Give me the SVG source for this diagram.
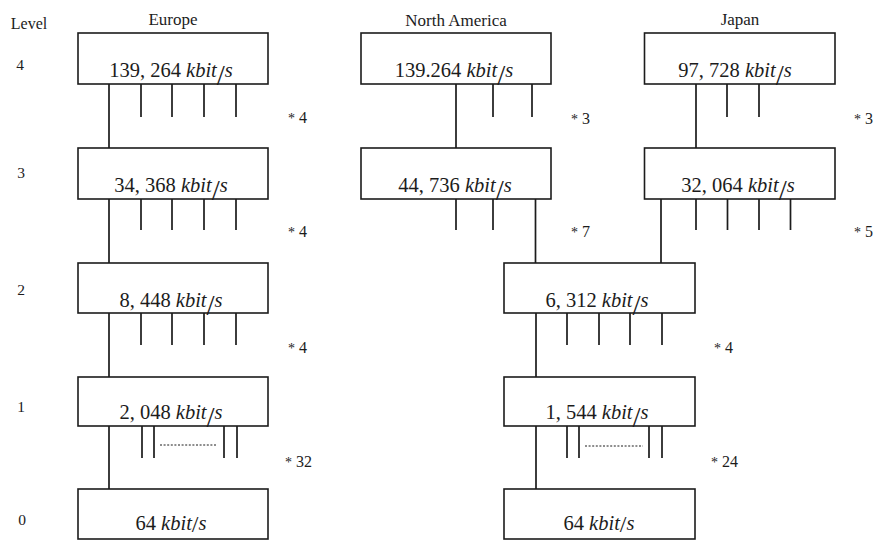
<svg xmlns="http://www.w3.org/2000/svg" width="878" height="540" viewBox="0 0 878 540">
<style>
.box{fill:#fff;stroke:#1c1c1c;stroke-width:1.6}
.ln{stroke:#1c1c1c;stroke-width:1.7;fill:none}
.dash{stroke:#1c1c1c;stroke-width:1;stroke-dasharray:2 1.6;fill:none}
text{font-family:"Liberation Serif","Times New Roman",serif;fill:#1c1c1c}
.hd{font-size:17px;text-anchor:middle}
.lv{font-size:15.5px;text-anchor:middle}
.val{font-size:20.5px;text-anchor:middle}
.it{font-style:italic}
.sl{font-size:29px}
.st{font-size:16px}
.ast{font-size:14px}
</style>
<rect width="878" height="540" fill="#fff"/>
<g id="labels">
<text x="29" y="29" class="hd" style="font-size:16px">Level</text>
<text x="173" y="25" class="hd">Europe</text>
<text x="456" y="26" class="hd">North America</text>
<text x="740" y="25" class="hd">Japan</text>
<text x="20" y="70" class="lv">4</text>
<text x="21" y="178" class="lv">3</text>
<text x="21" y="295" class="lv">2</text>
<text x="21" y="412" class="lv">1</text>
<text x="22" y="525" class="lv">0</text>
</g>
<g id="connectors">
<path class="ln" d="M109 84V148M109 199V263M109 313V377M109 426V489"/>
<path class="ln" d="M141 84V117M172 84V117M204 84V117M236 84V117"/>
<path class="ln" d="M141 199V230M172 199V230M204 199V230M236 199V230"/>
<path class="ln" d="M141 313V345M172 313V345M204 313V345M236 313V345"/>
<path class="ln" d="M142 426V458M154 426V458M224 426V458M237 426V458"/>
<path class="dash" d="M160 445H217"/>
<path class="ln" d="M456 84V148M493 84V117M532 84V117"/>
<path class="ln" d="M456 199V230M493 199V230M535.5 199V263"/>
<path class="ln" d="M696 84V148M727 84V117M759 84V117"/>
<path class="ln" d="M661 199V263M696 199V230M727.5 199V230M759 199V230M790.5 199V230"/>
<path class="ln" d="M536 313V377M567 313V345M599 313V345M630 313V345M662 313V345"/>
<path class="ln" d="M536 426V489M567 426V458M579 426V458M649 426V458M662 426V458"/>
<path class="dash" d="M585 446H643"/>
</g>
<g id="eu4"><rect class="box" x="78" y="33" width="190" height="51"/><text x="171" y="77" class="val">139, 264 <tspan class="it">kbit</tspan><tspan class="sl" dy="8">/</tspan><tspan class="it" dy="-8">s</tspan></text></g>
<g id="eu3"><rect class="box" x="78" y="148" width="190" height="51"/><text x="171" y="192" class="val">34, 368 <tspan class="it">kbit</tspan><tspan class="sl" dy="8">/</tspan><tspan class="it" dy="-8">s</tspan></text></g>
<g id="eu2"><rect class="box" x="78" y="263" width="190" height="50"/><text x="171" y="307" class="val">8, 448 <tspan class="it">kbit</tspan><tspan class="sl" dy="8">/</tspan><tspan class="it" dy="-8">s</tspan></text></g>
<g id="eu1"><rect class="box" x="78" y="377" width="190" height="49"/><text x="171" y="419" class="val">2, 048 <tspan class="it">kbit</tspan><tspan class="sl" dy="8">/</tspan><tspan class="it" dy="-8">s</tspan></text></g>
<g id="eu0"><rect class="box" x="78" y="489" width="190" height="50"/><text x="171" y="530" class="val">64 <tspan class="it">kbit</tspan><tspan class="sl" dy="2" style="font-size:24px">/</tspan><tspan class="it" dy="-2">s</tspan></text></g>
<g id="na4"><rect class="box" x="361" y="33" width="190" height="51"/><text x="454" y="77" class="val">139.264 <tspan class="it">kbit</tspan><tspan class="sl" dy="8">/</tspan><tspan class="it" dy="-8">s</tspan></text></g>
<g id="na3"><rect class="box" x="361" y="148" width="190" height="51"/><text x="455" y="192" class="val">44, 736 <tspan class="it">kbit</tspan><tspan class="sl" dy="8">/</tspan><tspan class="it" dy="-8">s</tspan></text></g>
<g id="jp4"><rect class="box" x="644.5" y="33" width="190.5" height="51"/><text x="735" y="77" class="val">97, 728 <tspan class="it">kbit</tspan><tspan class="sl" dy="8">/</tspan><tspan class="it" dy="-8">s</tspan></text></g>
<g id="jp3"><rect class="box" x="644.5" y="148" width="190.5" height="51"/><text x="738" y="192" class="val">32, 064 <tspan class="it">kbit</tspan><tspan class="sl" dy="8">/</tspan><tspan class="it" dy="-8">s</tspan></text></g>
<g id="am2"><rect class="box" x="504" y="263" width="191" height="50"/><text x="597" y="307" class="val">6, 312 <tspan class="it">kbit</tspan><tspan class="sl" dy="8">/</tspan><tspan class="it" dy="-8">s</tspan></text></g>
<g id="am1"><rect class="box" x="504" y="377" width="191" height="49"/><text x="597" y="419" class="val">1, 544 <tspan class="it">kbit</tspan><tspan class="sl" dy="8">/</tspan><tspan class="it" dy="-8">s</tspan></text></g>
<g id="am0"><rect class="box" x="504" y="489" width="191" height="50"/><text x="599" y="530" class="val">64 <tspan class="it">kbit</tspan><tspan class="sl" dy="2" style="font-size:24px">/</tspan><tspan class="it" dy="-2">s</tspan></text></g>
<g id="multipliers">
<text x="288" y="123" class="st"><tspan class="ast">*</tspan> 4</text>
<text x="288" y="237" class="st"><tspan class="ast">*</tspan> 4</text>
<text x="288" y="353" class="st"><tspan class="ast">*</tspan> 4</text>
<text x="285" y="467" class="st"><tspan class="ast">*</tspan> 32</text>
<text x="571" y="124" class="st"><tspan class="ast">*</tspan> 3</text>
<text x="571" y="237" class="st"><tspan class="ast">*</tspan> 7</text>
<text x="854" y="124" class="st"><tspan class="ast">*</tspan> 3</text>
<text x="854" y="237" class="st"><tspan class="ast">*</tspan> 5</text>
<text x="714" y="353" class="st"><tspan class="ast">*</tspan> 4</text>
<text x="711" y="467" class="st"><tspan class="ast">*</tspan> 24</text>
</g>
</svg>
